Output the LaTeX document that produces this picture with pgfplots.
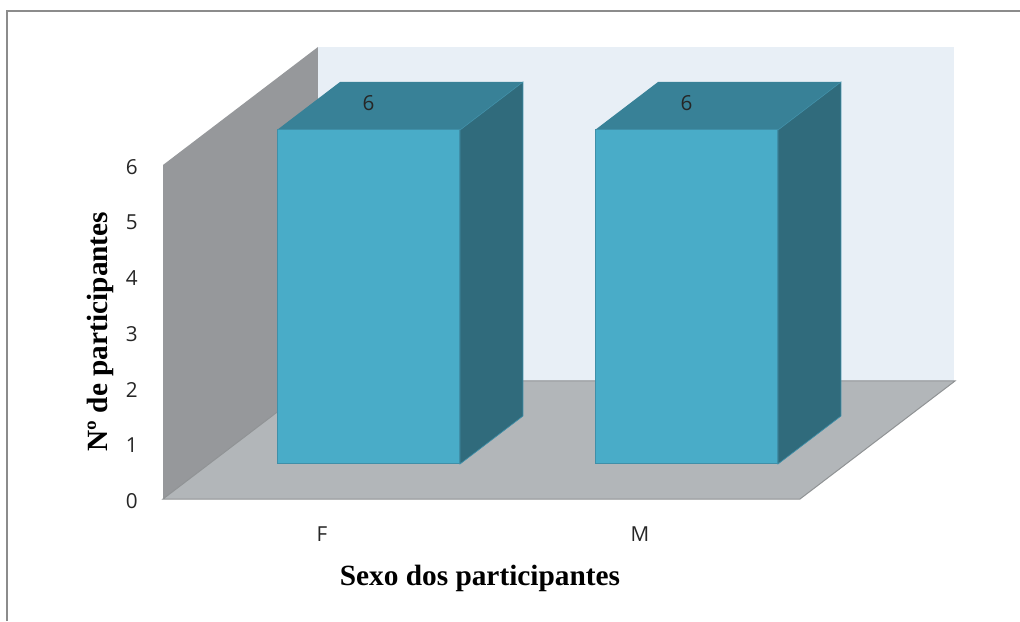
\documentclass[border=0pt]{standalone}
\usepackage{fontspec}
\setmainfont{Open Sans}
\newfontfamily\titlefont{Liberation Serif}
\usepackage{pgfplots}
\pgfplotsset{compat=1.18}

\definecolor{backwall}{HTML}{E8EFF6}
\definecolor{sidewall}{HTML}{96989B}
\definecolor{floorgrey}{HTML}{B2B6B9}
\definecolor{flooredge}{HTML}{909395}
\definecolor{barfront}{HTML}{49ACC8}
\definecolor{bartop}{HTML}{388197}
\definecolor{barside}{HTML}{306B7C}
\definecolor{baredge}{HTML}{3F8FA8}
\definecolor{framegrey}{HTML}{8C8C8C}

% one drawing unit of the layout is 0.75pt
\pgfmathsetmacro{\W}{637*0.75}
\pgfmathsetmacro{\H}{334*0.75}

\begin{document}
\begin{tikzpicture}
\path[use as bounding box] (0,0) rectangle (765pt,465.75pt);
\fill[white] (0,0) rectangle (765pt,465.75pt);
\draw[framegrey,line width=1.8pt] (5.4pt,0) -- (5.4pt,457.5pt) -- (765pt,457.5pt);

% walls, floor and axis labels
\begin{axis}[
  at={(122.25pt,91.5pt)}, anchor=south west,
  scale only axis, width=\W pt, height=\H pt,
  xmin=-0.5, xmax=1.5032, ymin=0, ymax=6,
  clip=false,
  axis line style={draw=none},
  major tick style={draw=none},
  xtick={0,1}, xticklabels={F,M},
  ytick={0,1,2,3,4,5,6},
  tick label style={font=\fontsize{15.5}{16}\selectfont,text=black!85},
  /pgf/number format/assume math mode=true,
  x tick label style={anchor=center,yshift=-26pt},
  y tick label style={anchor=center,xshift=-23.5pt,yshift=-1.5pt},
  xlabel={\titlefont\bfseries Sexo dos participantes},
  ylabel={\titlefont\bfseries Nº de participantes},
  every axis x label/.style={at={(axis description cs:0.4976,-0.2365)},anchor=center,font=\fontsize{22}{22}\selectfont},
  every axis y label/.style={at={(axis description cs:-0.0975,0.5015)},anchor=center,rotate=90,font=\fontsize{22}{22}\selectfont},
]
  \addplot[fill=backwall,draw=none] coordinates {(-0.0126,2.12) (1.9874,2.12) (1.9874,8.12) (-0.0126,8.12)} -- cycle;
  \addplot[fill=sidewall,draw=none] coordinates {(-0.5,0) (-0.0126,2.12) (-0.0126,8.12) (-0.5,6)} -- cycle;
  \addplot[fill=floorgrey,draw=flooredge,line width=0.75pt] coordinates {(-0.5,0) (-0.0126,2.12) (1.9906,2.12) (1.5032,0)} -- cycle;
\end{axis}

% the bars stand further back on the floor
\begin{axis}[
  at={(157.125pt,117.75pt)}, anchor=south west,
  scale only axis, width=\W pt, height=\H pt,
  xmin=-0.5, xmax=1.5032, ymin=0, ymax=6,
  clip=false, hide axis,
  /pgf/number format/assume math mode=true,
  nodes near coords style={font=\fontsize{15.5}{16}\selectfont,text=black!85,anchor=center,yshift=20.5pt},
]
  \addplot[fill=bartop,draw=none] coordinates {(-0.2877,6) (-0.0896,6.8623) (0.4858,6.8623) (0.2877,6)} -- cycle;
  \addplot[fill=barside,draw=baredge,line width=0.5pt] coordinates {(0.2877,6) (0.4858,6.8623) (0.4858,0.8623) (0.2877,0)} -- cycle;
  \addplot[fill=bartop,draw=none] coordinates {(0.7123,6) (0.9104,6.8623) (1.4858,6.8623) (1.2877,6)} -- cycle;
  \addplot[fill=barside,draw=baredge,line width=0.5pt] coordinates {(1.2877,6) (1.4858,6.8623) (1.4858,0.8623) (1.2877,0)} -- cycle;
  \addplot[ybar,bar width=136.5pt,fill=barfront,draw=baredge,line width=0.75pt,
    nodes near coords,point meta=y] coordinates {(0,6) (1,6)};
\end{axis}
\end{tikzpicture}
\end{document}
